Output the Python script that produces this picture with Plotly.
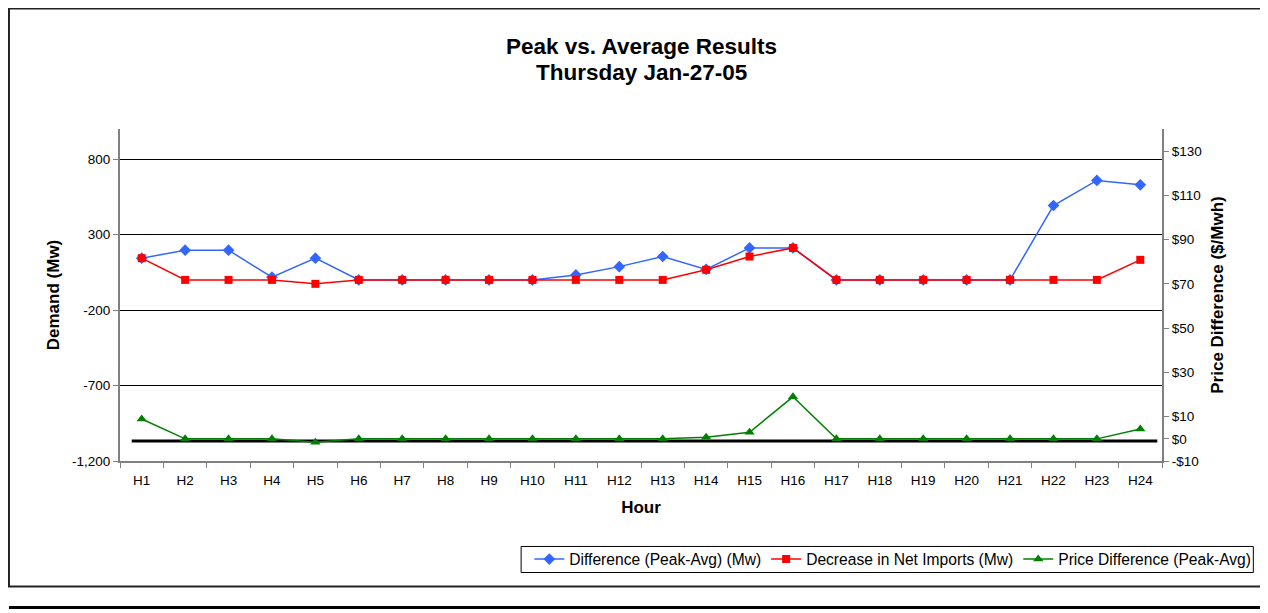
import plotly.graph_objects as go

# ---------------- data ----------------
hours = ["H1", "H2", "H3", "H4", "H5", "H6", "H7", "H8", "H9", "H10", "H11", "H12",
         "H13", "H14", "H15", "H16", "H17", "H18", "H19", "H20", "H21", "H22", "H23", "H24"]
diff_mw = [144, 197, 197, 18, 144, 0, 0, 0, 0, 0, 33, 88,
           155, 70, 212, 212, 0, 0, 0, 0, 0, 493, 659, 630]
net_imports_mw = [144, 0, 0, 0, -26, 0, 0, 0, 0, 0, 0, 0,
                  0, 67, 155, 212, 0, 0, 0, 0, 0, 0, 0, 133]
price_diff = [9, 0, 0, 0, -1.5, 0, 0, 0, 0, 0, 0, 0,
              0, 0.7, 3, 19, 0, 0, 0, 0, 0, 0, 0, 4.5]

left_ticks = [-1200, -700, -200, 300, 800]
left_ticktext = ["-1,200", "-700", "-200", "300", "800"]
right_ticks = [-10, 0, 10, 30, 50, 70, 90, 110, 130]
right_ticktext = ["-$10", "$0", "$10", "$30", "$50", "$70", "$90", "$110", "$130"]
zero_price_line = -1

# ---------------- layout geometry (page pixels) ----------------
PAGE_W, PAGE_H = 1268, 613
OFF = 8                      # default body margin of the html page
W, H = PAGE_W - OFF, PAGE_H - OFF
L, R = 120, 1161.7           # plot area left/right in page px
T, B = 129.3, 460.7          # plot area top/bottom in page px
FONT = "Liberation Sans, Arial, sans-serif"


def px2x(px):
    return (px - L) / (R - L)


def py2y(py):
    return (B - py) / (B - T)


fig = go.Figure()
fig.add_trace(go.Scatter(
    x=hours, y=diff_mw, name="Difference (Peak-Avg) (Mw)", mode="lines+markers",
    line=dict(color="#3366ff", width=1.5),
    marker=dict(symbol="diamond", size=9, color="#3366ff")))
fig.add_trace(go.Scatter(
    x=hours, y=net_imports_mw, name="Decrease in Net Imports (Mw)", mode="lines+markers",
    line=dict(color="#ff0000", width=1.5),
    marker=dict(symbol="square", size=8, color="#ff0000")))
fig.add_trace(go.Scatter(
    x=hours, y=price_diff, name="Price Difference (Peak-Avg)", mode="lines+markers",
    yaxis="y2",
    line=dict(color="#008000", width=1.5),
    marker=dict(symbol="triangle-up", size=9, color="#008000")))

shapes = [
    dict(type="line", xref="paper", yref="y2", x0=px2x(131.7), x1=px2x(1157),
         y0=zero_price_line, y1=zero_price_line, line=dict(color="black", width=3), layer="below"),
    dict(type="rect", xref="paper", yref="paper", x0=px2x(9), x1=px2x(1262),
         y0=py2y(586), y1=py2y(9), line=dict(color="#222222", width=2)),
    dict(type="line", xref="paper", yref="paper", x0=px2x(9), x1=px2x(1268),
         y0=py2y(607), y1=py2y(607), line=dict(color="black", width=3)),
    dict(type="line", xref="paper", yref="paper", x0=px2x(1266.5), x1=px2x(1266.5),
         y0=py2y(8), y1=py2y(28), line=dict(color="black", width=3)),
    # legend frame
    dict(type="rect", xref="paper", yref="paper", x0=px2x(521), x1=px2x(1253),
         y0=py2y(572), y1=py2y(546), line=dict(color="black", width=1)),
]

annotations = [
    dict(text="<b>Peak vs. Average Results</b>", xref="paper", yref="paper",
         x=0.5, y=py2y(47), xanchor="center", yanchor="middle", showarrow=False,
         font=dict(size=22.5, color="black", family=FONT)),
    dict(text="<b>Thursday Jan-27-05</b>", xref="paper", yref="paper",
         x=0.5, y=py2y(73), xanchor="center", yanchor="middle", showarrow=False,
         font=dict(size=22.5, color="black", family=FONT)),
]

fig.update_layout(
    width=W, height=H, autosize=False,
    margin=dict(l=L - OFF, r=PAGE_W - R, t=T - OFF, b=PAGE_H - B, pad=0),
    paper_bgcolor="white", plot_bgcolor="white",
    font=dict(family=FONT, color="black", size=13.5),
    xaxis=dict(type="category", range=[-0.5, 23.5], tickson="boundaries",
               ticks="outside", ticklen=5, tickcolor="#808080", tickwidth=1,
               showline=True, linecolor="#808080", linewidth=2, showgrid=False,
               tickfont=dict(size=13.5), automargin=False, ticklabelstandoff=6,
               title=dict(text="<b>Hour</b>", font=dict(size=17), standoff=14)),
    yaxis=dict(range=[-1200, 1000], tickvals=left_ticks, ticktext=left_ticktext,
               showgrid=True, gridcolor="black", gridwidth=1, zeroline=False,
               showline=True, linecolor="#808080", linewidth=2,
               ticks="outside", ticklen=5, tickcolor="#808080",
               tickfont=dict(size=13.5), automargin=False,
               title=dict(text="<b>Demand (Mw)</b>", font=dict(size=17), standoff=8)),
    yaxis2=dict(range=[-10, 140], overlaying="y", side="right",
                tickvals=right_ticks, ticktext=right_ticktext,
                showgrid=False, zeroline=False,
                showline=True, linecolor="#808080", linewidth=2,
                ticks="outside", ticklen=5, tickcolor="#808080",
                tickfont=dict(size=13.5), automargin=False,
                title=dict(text="<b>Price Difference ($/Mwh)</b>", font=dict(size=17), standoff=10)),
    legend=dict(orientation="h", x=px2x(1256), xanchor="right", y=py2y(559), yanchor="middle",
                borderwidth=0, bgcolor="rgba(0,0,0,0)",
                font=dict(size=15.6, family=FONT)),
    shapes=shapes,
    annotations=annotations,
)

fig.write_html("out.html")
